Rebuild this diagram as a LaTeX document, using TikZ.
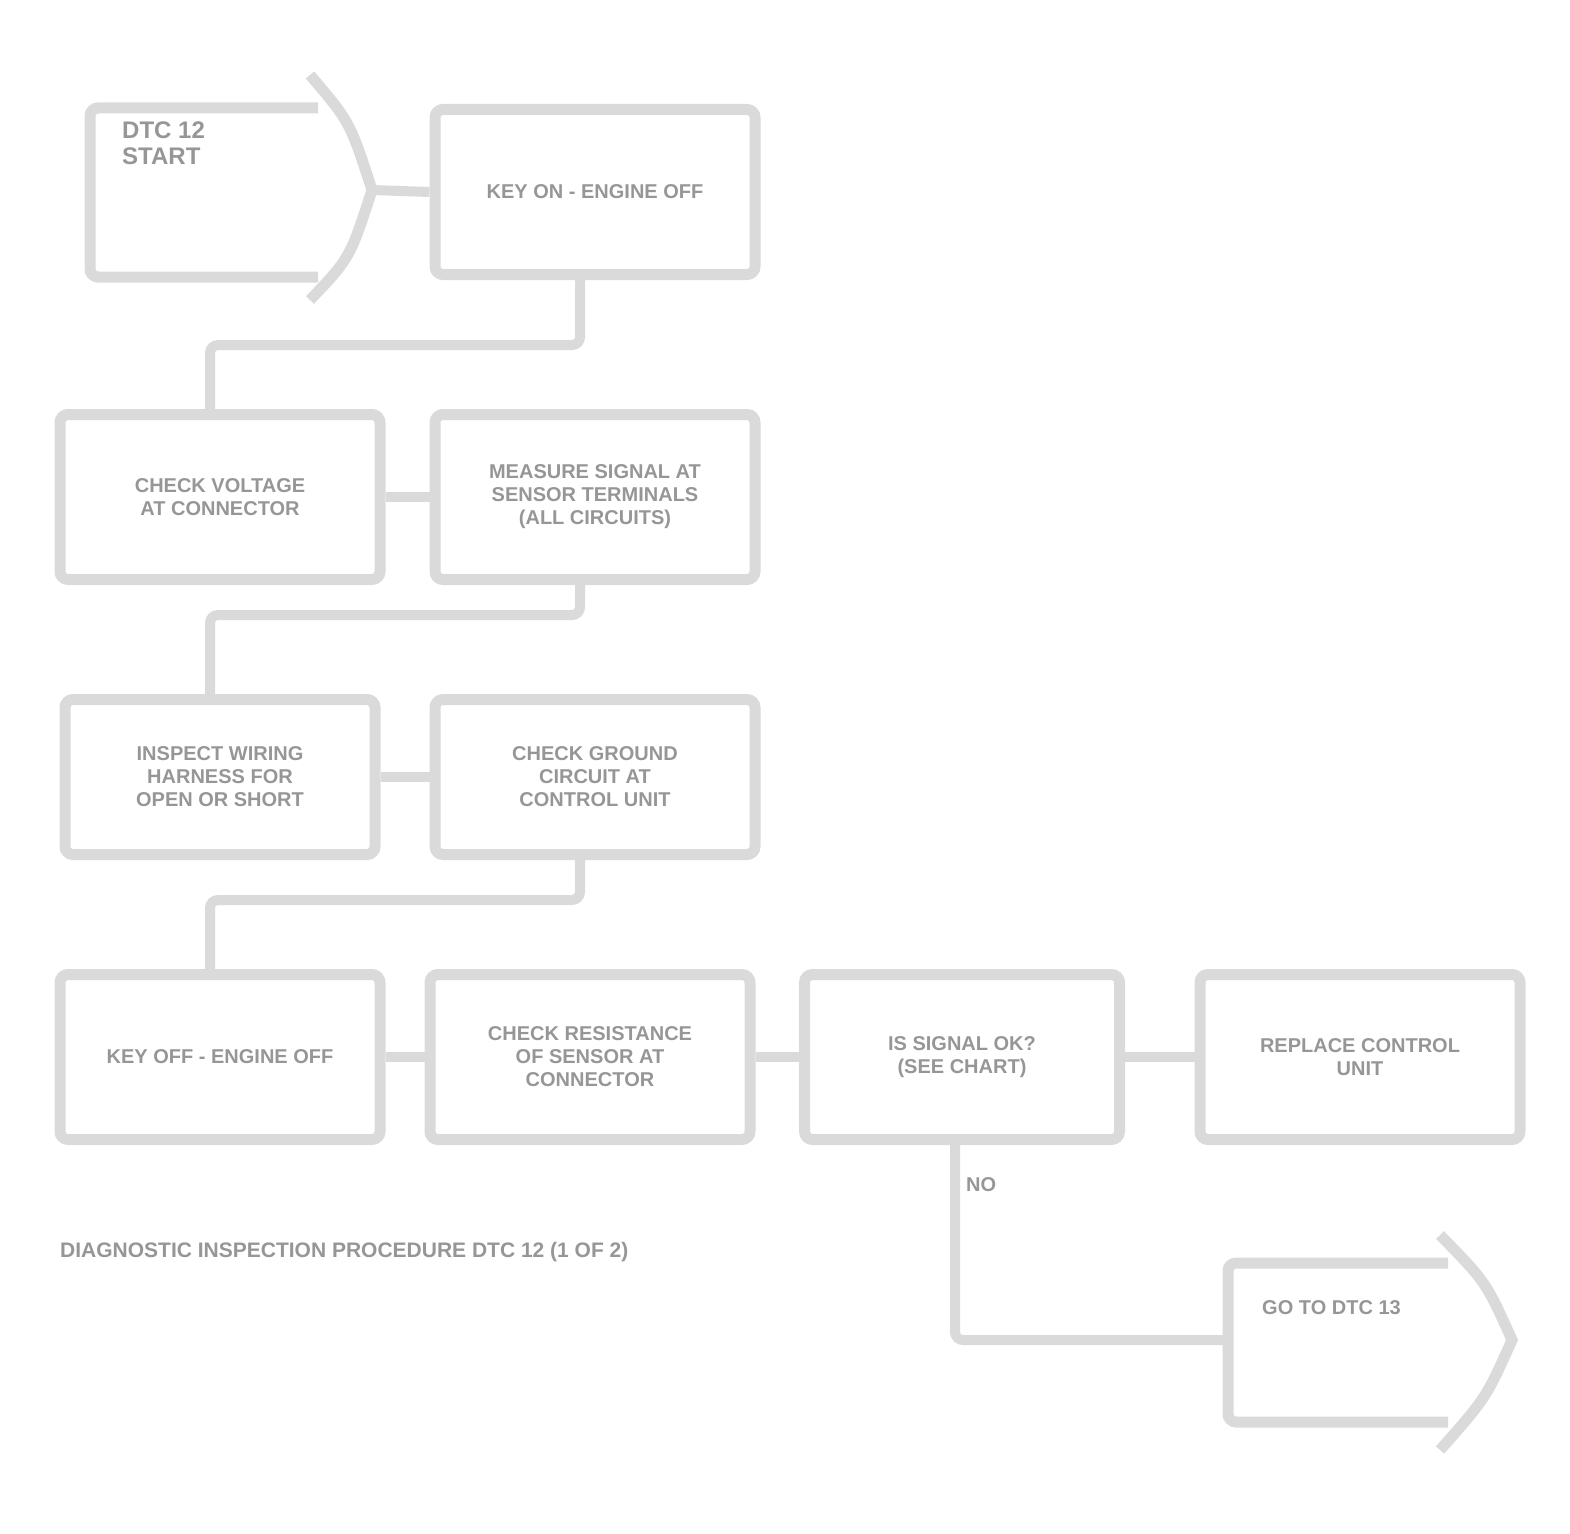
\documentclass[tikz,border=0pt]{standalone}
\usepackage{fontspec}
\setmainfont{Liberation Sans}
\definecolor{lgray}{RGB}{218,218,218}
\definecolor{tgray}{RGB}{150,150,150}
\begin{document}
\begin{tikzpicture}[x=1pt,y=-1pt,
  stepbox/.style={draw=lgray,line width=11pt,rounded corners=8pt,minimum width=320pt,minimum height=165pt,
    font=\bfseries\fontsize{20}{23}\selectfont,text=tgray,align=center,inner sep=0pt},
  link/.style={draw=lgray,line width=10pt},
  offpage/.style={draw=lgray,line width=11pt,rounded corners=8pt},
  lbl/.style={font=\bfseries\fontsize{20}{23}\selectfont,text=tgray,align=left,inner sep=0pt}]
\useasboundingbox (0,0) rectangle (1570,1533);
% start off-page connector
\draw[offpage] (318,108) -- (90,108) -- (90,277) -- (318,277);
\draw[offpage,rounded corners=0pt] (310,75) .. controls (350,122) .. (372,190) .. controls (350,258) .. (310,300);
\coordinate (st) at (372,190);
\node[lbl,anchor=north west,font=\bfseries\fontsize{24}{26}\selectfont] (sttxt) at (122,122) {DTC 12\\ START};
% row 1
\node[stepbox] (a) at (595,192) {KEY ON - ENGINE OFF};
% row 2
\node[stepbox] (b) at (220,497) {CHECK VOLTAGE\\ AT CONNECTOR};
\node[stepbox] (c) at (595,497) {MEASURE SIGNAL AT\\ SENSOR TERMINALS\\ (ALL CIRCUITS)};
% row 3
\node[stepbox,minimum width=310pt,minimum height=155pt] (d) at (220,777) {INSPECT WIRING\\ HARNESS FOR\\ OPEN OR SHORT};
\node[stepbox,minimum height=155pt] (e) at (595,777) {CHECK GROUND\\ CIRCUIT AT\\ CONTROL UNIT};
% row 4
\node[stepbox] (f) at (220,1057) {KEY OFF - ENGINE OFF};
\node[stepbox] (g) at (590,1057) {CHECK RESISTANCE\\ OF SENSOR AT\\ CONNECTOR};
\node[stepbox,minimum width=315pt] (h) at (962,1057) {IS SIGNAL OK?\\ (SEE CHART)};
\node[stepbox] (i) at (1360,1057) {REPLACE CONTROL\\ UNIT};
% end off-page connector
\draw[offpage] (1448,1263) -- (1228,1263) -- (1228,1422) -- (1448,1422);
\draw[offpage,rounded corners=0pt] (1440,1235) .. controls (1486,1282) .. (1512,1340) .. controls (1486,1398) .. (1440,1450);
\coordinate (en) at (1228,1340);
\node[lbl,anchor=north west] (entxt) at (1262,1300) {GO TO DTC 13};
% connectors
\draw[link] (st) -- (a.west);
\draw[link,rounded corners=8pt] ([xshift=-15pt]a.south) -- (580,345) -- (210,345) -- (210,414);
\draw[link] (b.east) -- (c.west);
\draw[link,rounded corners=8pt] ([xshift=-15pt]c.south) -- (580,615) -- (210,615) -- (210,699);
\draw[link] (d.east) -- (e.west);
\draw[link,rounded corners=8pt] ([xshift=-15pt]e.south) -- (580,900) -- (210,900) -- (210,974);
\draw[link] (f.east) -- (g.west);
\draw[link] (g.east) -- (h.west);
\draw[link] (h.east) -- (i.west);
\draw[link,rounded corners=8pt] ([xshift=-7pt]h.south) -- (955,1340) -- (en);
\node[lbl,anchor=west] (nolbl) at (966,1185) {NO};
% footer
\node[lbl,anchor=west,font=\bfseries\fontsize{21}{24}\selectfont] (foot) at (60,1252) {DIAGNOSTIC INSPECTION PROCEDURE DTC 12 (1 OF 2)};
\end{tikzpicture}
\end{document}
